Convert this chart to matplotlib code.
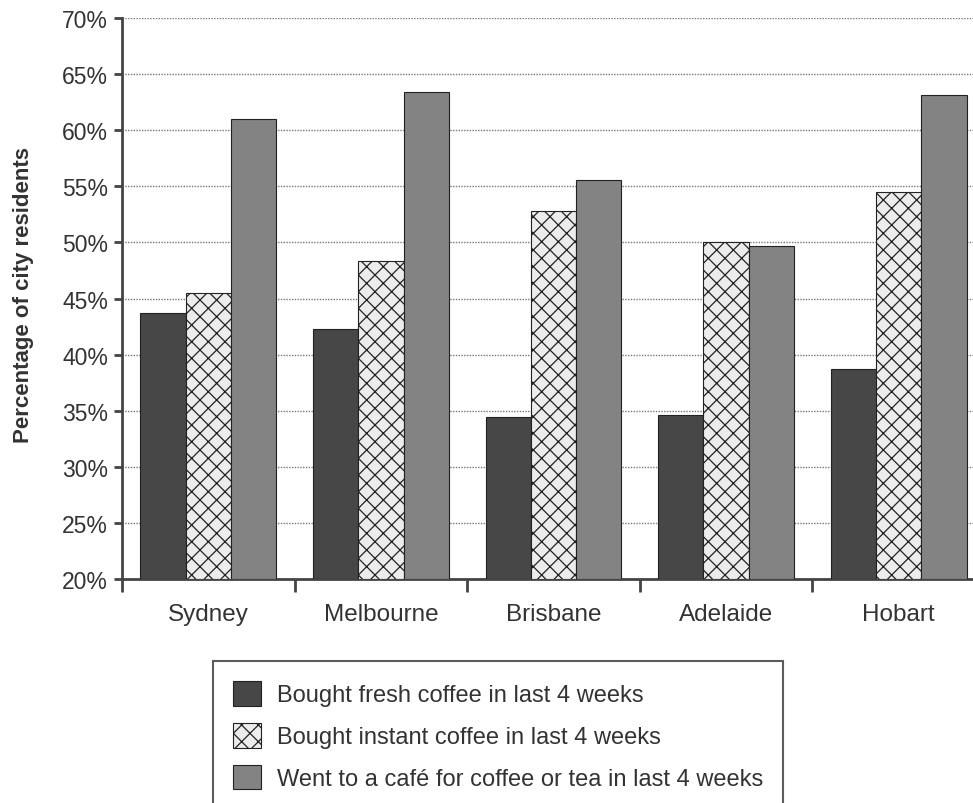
import numpy as np
import matplotlib
matplotlib.use("Agg")
import matplotlib.pyplot as plt
from matplotlib.ticker import FuncFormatter

plt.rcParams['font.family'] = ['Liberation Sans', 'DejaVu Sans']
plt.rcParams['hatch.linewidth'] = 0.9
plt.rcParams['hatch.color'] = '#2a2a2a'

# datos (porcentaje de residentes)
ciudades = ["Sydney", "Melbourne", "Brisbane", "Adelaide", "Hobart"]
cafe_fresco = [43.7, 42.3, 34.4, 34.6, 38.7]
cafe_instantaneo = [45.5, 48.3, 52.8, 50.0, 54.5]
cafeteria = [61.0, 63.4, 55.6, 49.7, 63.1]
series = ["Bought fresh coffee in last 4 weeks",
          "Bought instant coffee in last 4 weeks",
          "Went to a café for coffee or tea in last 4 weeks"]

fig = plt.figure(figsize=(9.73, 8.04), dpi=100)
ax = fig.add_axes([122/973, 1 - 580/804, 863/973, 561/804])

x = np.arange(len(ciudades)) + 0.5
w = 0.262
base = 20
ax.bar(x - w, np.array(cafe_fresco) - base, w, bottom=base, color='#474747',
       edgecolor='#222222', linewidth=0.8, label=series[0], zorder=3)
ax.bar(x, np.array(cafe_instantaneo) - base, w, bottom=base, color='#ececec',
       edgecolor='#222222', linewidth=0.8, hatch='xx', label=series[1], zorder=3)
ax.bar(x + w, np.array(cafeteria) - base, w, bottom=base, color='#838383',
       edgecolor='#222222', linewidth=0.8, label=series[2], zorder=3)

ax.set_xlim(0, 5)
ax.set_ylim(20, 70)
ax.set_yticks(np.arange(20, 71, 5))
ax.yaxis.set_major_formatter(FuncFormatter(lambda v, p: f"{v:.0f}%"))
ax.set_xticks(x)
ax.set_xticklabels(ciudades, fontsize=17.5, color='#333333')
ax.set_xticks(np.arange(0, 6), minor=True)
ax.tick_params(axis='x', which='major', length=0, pad=17)
ax.tick_params(axis='x', which='minor', length=9, width=2, color='#444444', direction='out')
ax.tick_params(axis='y', length=6, width=2, color='#444444', pad=4,
               labelsize=16.5, labelcolor='#333333')

ax.grid(axis='y', linestyle=(0, (1, 1)), color='#777777', linewidth=1, zorder=0)
for s in ['top', 'right']:
    ax.spines[s].set_visible(False)
for s in ['left', 'bottom']:
    ax.spines[s].set_color('#444444')
    ax.spines[s].set_linewidth(2)

fig.text(24/973, 1 - 295/804, "Percentage of city residents", rotation=90,
         ha='center', va='center', fontsize=16, fontweight='bold', color='#333333')

leg = fig.legend(loc='upper left', bbox_to_anchor=(213/973, 1 - 662/804),
                 frameon=True, fancybox=False, fontsize=17, handlelength=1.2,
                 handleheight=1.23, handletextpad=0.65, labelspacing=0.7,
                 borderpad=0.85, borderaxespad=0)
leg.get_frame().set_edgecolor('#333333')
leg.get_frame().set_linewidth(1.5)
for t in leg.get_texts():
    t.set_color('#333333')

fig.savefig("out.png", dpi=100)
